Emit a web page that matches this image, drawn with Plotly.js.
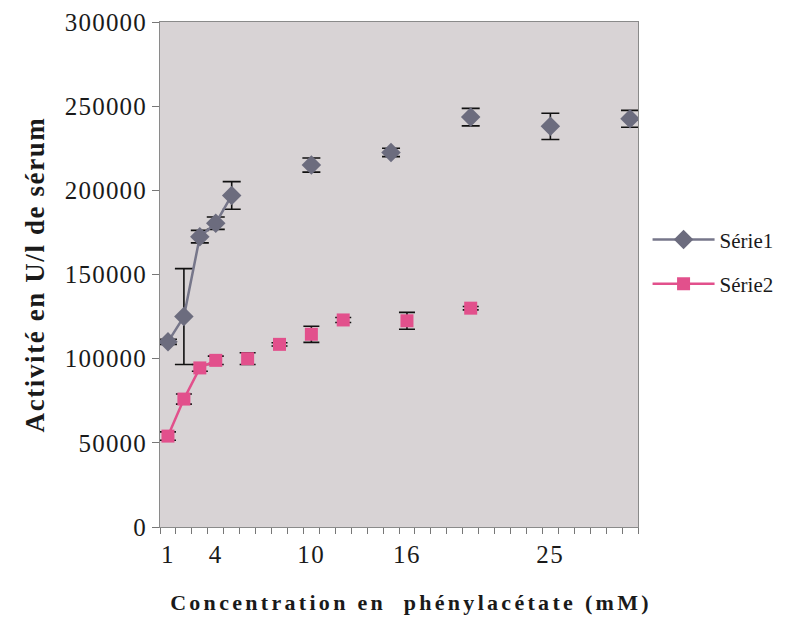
<!DOCTYPE html>
<html><head><meta charset="utf-8">
<script src="https://cdn.plot.ly/plotly-3.0.1.min.js"></script>
<style>
html,body{margin:0;padding:0;background:#fff;}
#chart{width:791px;height:629px;}
.x2title{letter-spacing:3.3px; transform:translateX(12px);}
.ytitle{letter-spacing:1.6px;}
.ytick text{letter-spacing:1.2px;}
.x2tick text{letter-spacing:1.5px;}
</style></head><body><div id="chart"></div>
<script>
const categories = [1,2,3,4,5,6,7,8,9,10,11,12,13,14,15,16,17,18,19,20,21,22,23,24,25,26,27,28,29,30];
const serie1 = [110000,125000,172500,180500,197000,null,null,null,null,215000,null,null,null,null,222500,null,null,null,null,243500,null,null,null,null,238000,null,null,null,null,242500];
const serie1Err = [1500,28500,3700,3700,8200,null,null,null,null,4200,null,null,null,null,2500,null,null,null,null,5200,null,null,null,null,7800,null,null,null,null,5000];
const serie2 = [54000,76000,94500,99000,null,100000,null,108500,null,114500,null,123000,null,null,null,122500,null,null,null,130000,null,null,null,null,null,null,null,null,null,null];
const serie2Err = [2500,3000,2000,2500,null,3500,null,1000,null,4800,null,1500,null,null,null,5000,null,null,null,1000,null,null,null,null,null,null,null,null,null,null];
const xTickVals = [1,4,10,16,25];
const xTickText = ['1','4','10','16','25'];
const seriesNames = ['Série1','Série2'];

// tick marks sit on the boundaries between categories (Excel category axis)
const boundaries = [categories[0] - 0.5].concat(categories.map(c => c + 0.5));
const xRange = [boundaries[0], boundaries[boundaries.length - 1]];

const serif = 'Liberation Serif, Times New Roman, serif';
const traces = [
  {x: categories, y: serie1, name: seriesNames[0], type: 'scatter', mode: 'lines+markers',
   connectgaps: false, legendgroup: 'a',
   line: {color: '#76768a', width: 2.5},
   marker: {symbol: 'diamond', size: 15, color: '#6c6c7e'},
   error_y: {type: 'data', array: serie1Err, visible: true, color: '#111', thickness: 1.6, width: 9}},
  {x: categories, y: serie2, name: seriesNames[1], type: 'scatter', mode: 'lines+markers',
   connectgaps: false, legendgroup: 'b',
   line: {color: '#e2508c', width: 2.5},
   marker: {symbol: 'square', size: 13, color: '#e2508c'},
   error_y: {type: 'data', array: serie2Err, visible: true, color: '#111', thickness: 1.6, width: 8}},
  {x: xRange, y: [null, null], xaxis: 'x2', yaxis: 'y', type: 'scatter', mode: 'lines',
   showlegend: false, hoverinfo: 'skip'}
];
const layout = {
  width: 791, height: 629,
  margin: {l: 160, r: 151, t: 22, b: 102},
  paper_bgcolor: '#ffffff', plot_bgcolor: '#d8d3d5',
  showlegend: true,
  legend: {x: 1.02, xanchor: 'left', y: 0.525, yanchor: 'middle', traceorder: 'grouped', tracegroupgap: 14,
           itemwidth: 62, font: {family: serif, size: 21, color: '#1a1a1a'}, bgcolor: 'rgba(0,0,0,0)'},
  xaxis: {range: xRange, tickmode: 'array', tickvals: boundaries, showticklabels: false,
          ticks: 'outside', ticklen: 6, tickcolor: '#777', tickwidth: 1, showgrid: false, zeroline: false,
          showline: true, linecolor: '#8a8a8a', linewidth: 1, mirror: true},
  xaxis2: {range: xRange, overlaying: 'x', anchor: 'y', side: 'bottom',
           tickmode: 'array', tickvals: xTickVals, ticktext: xTickText,
           ticks: '', ticklabelstandoff: 10, showgrid: false, zeroline: false, showline: false,
           tickfont: {family: serif, size: 25, color: '#1a1a1a'},
           title: {text: 'Concentration en  phénylacétate (mM)', standoff: 27,
                   font: {family: serif, size: 22, weight: 700, color: '#1a1a1a'}}},
  yaxis: {range: [0, 300000], tickmode: 'linear', tick0: 0, dtick: 50000, tickformat: 'd',
          ticks: 'outside', ticklen: 7, tickcolor: '#777', showgrid: false, zeroline: false,
          showline: true, linecolor: '#8a8a8a', linewidth: 1, mirror: true,
          tickfont: {family: serif, size: 25, color: '#1a1a1a'},
          title: {text: 'Activité en U/l de sérum', standoff: 12,
                  font: {family: serif, size: 27, weight: 700, color: '#1a1a1a'}}}
};
Plotly.newPlot('chart', traces, layout, {displayModeBar: false, staticPlot: true});
</script></body></html>
